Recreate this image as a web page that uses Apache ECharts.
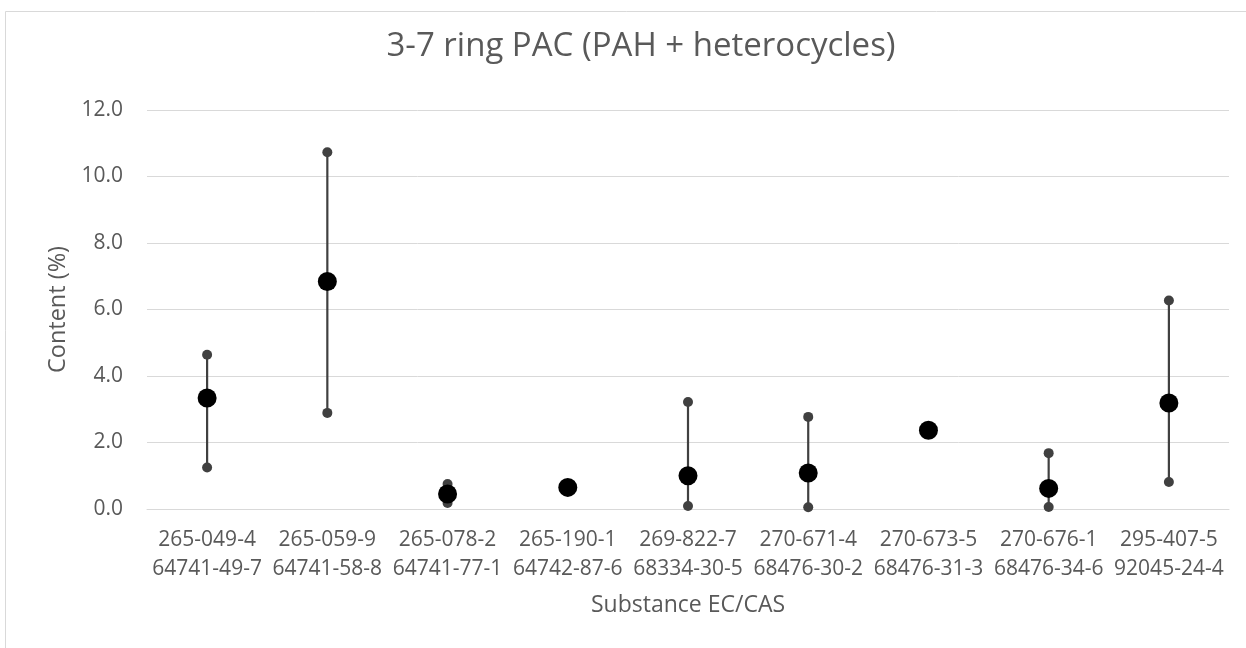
<!DOCTYPE html>
<html>
<head>
<meta charset="utf-8">
<script src="https://cdn.jsdelivr.net/npm/echarts@6/dist/echarts.min.js"></script>
<style>
html,body{margin:0;padding:0;background:#fff;}
#chart{width:1246px;height:648px;}
</style>
</head>
<body>
<div id="chart"></div>
<script>
const categories = [
  "265-049-4\n64741-49-7",
  "265-059-9\n64741-58-8",
  "265-078-2\n64741-77-1",
  "265-190-1\n64742-87-6",
  "269-822-7\n68334-30-5",
  "270-671-4\n68476-30-2",
  "270-673-5\n68476-31-3",
  "270-676-1\n68476-34-6",
  "295-407-5\n92045-24-4"
];
const meanValues = [3.34, 6.84, 0.45, 0.65, 1.00, 1.08, 2.37, 0.62, 3.19];
const maxValues  = [4.64, 10.73, 0.75, null, 3.22, 2.77, null, 1.68, 6.27];
const minValues  = [1.25, 2.89, 0.18, null, 0.09, 0.05, null, 0.06, 0.81];
const yTicks = [0, 2, 4, 6, 8, 10, 12];

const FONT = "'Open Sans', sans-serif";
const TXT = "#595959";

const chart = echarts.init(document.getElementById('chart'));
const rangeData = categories.map((c, i) => [i, minValues[i], maxValues[i]]).filter(d => d[1] != null && d[2] != null);
const endPoints = [];
categories.forEach((c, i) => {
  if (maxValues[i] != null) endPoints.push([i, maxValues[i]]);
  if (minValues[i] != null) endPoints.push([i, minValues[i]]);
});

chart.setOption({
  animation: false,
  backgroundColor: '#fff',
  title: {
    text: '3-7 ring PAC (PAH + heterocycles)',
    left: 636, top: 25, textAlign: 'center',
    textStyle: { fontFamily: FONT, fontSize: 33, fontWeight: 'normal', color: TXT }
  },
  graphic: [{
    type: 'rect', shape: { x: 5.5, y: 11.5, width: 1300, height: 700 },
    style: { fill: 'none', stroke: '#d9d9d9', lineWidth: 1 }, silent: true, z: -1
  }],
  grid: { left: 147, right: 17, top: 110, bottom: 139, containLabel: false },
  xAxis: {
    type: 'category', data: categories, boundaryGap: true,
    axisLine: { show: true, lineStyle: { color: '#d9d9d9', width: 1 } },
    axisTick: { show: false },
    axisLabel: { interval: 0, color: TXT, fontFamily: FONT, fontSize: 21, lineHeight: 29, margin: 17 },
    name: 'Substance EC/CAS', nameLocation: 'middle', nameGap: 85,
    nameTextStyle: { color: TXT, fontFamily: FONT, fontSize: 23 }
  },
  yAxis: {
    type: 'value', min: 0, max: 12, interval: 2,
    axisLine: { show: false }, axisTick: { show: false },
    splitLine: { lineStyle: { color: '#d9d9d9', width: 1 } },
    axisLabel: { color: TXT, fontFamily: FONT, fontSize: 21, margin: 24, formatter: v => yTicks.includes(v) ? v.toFixed(1) : '' },
    name: 'Content (%)', nameLocation: 'middle', nameGap: 75, nameRotate: 90,
    nameTextStyle: { color: TXT, fontFamily: FONT, fontSize: 23.5 }
  },
  series: [
    {
      type: 'custom', data: rangeData, z: 2,
      renderItem: (params, api) => {
        const p1 = api.coord([api.value(0), api.value(1)]);
        const p2 = api.coord([api.value(0), api.value(2)]);
        return { type: 'line', shape: { x1: p1[0], y1: p1[1], x2: p2[0], y2: p2[1] },
          style: { stroke: '#404040', lineWidth: 2.2 } };
      }
    },
    {
      type: 'scatter', data: endPoints, symbol: 'circle', symbolSize: 10, z: 3,
      itemStyle: { color: '#404040', opacity: 1 }
    },
    {
      type: 'scatter', data: meanValues.map((v, i) => [i, v]), symbol: 'circle', symbolSize: 19, z: 4,
      itemStyle: { color: '#000000', opacity: 1 }
    }
  ]
});
</script>
</body>
</html>
